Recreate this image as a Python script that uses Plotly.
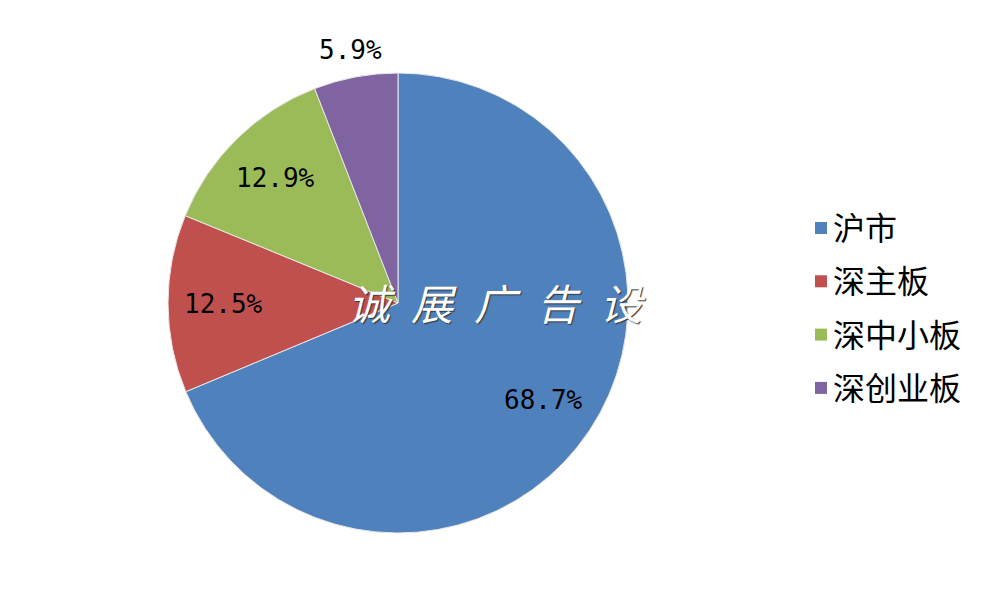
import math
import plotly.graph_objects as go

labels = ["沪市", "深主板", "深中小板", "深创业板"]
values = [68.7, 12.5, 12.9, 5.9]
colors = ["#4F81BD", "#C0504D", "#9BBB59", "#8064A2"]
positions = ["inside", "inside", "inside", "outside"]
watermark = "\u2002".join("诚展广告设")

W, H = 1000, 608
# pie geometry in pixels (layout)
cx, cy, R = 398, 303, 230
dom_x = [(cx - R) / W, (cx + R) / W]
dom_y = [(H - cy - R) / H, (H - cy + R) / H]

fig = go.Figure(go.Pie(
    labels=labels,
    values=values,
    sort=False,
    direction="clockwise",
    rotation=0,
    marker=dict(colors=colors, line=dict(color="#E8E8E8", width=1)),
    textinfo="none",
    hoverinfo="label+percent",
    showlegend=False,
    domain=dict(x=dom_x, y=dom_y),
))

annotations = []
# percentage labels placed at each slice's mid-angle
total = sum(values)
cum = 0.0
for lab, v, pos in zip(labels, values, positions):
    mid = (cum + v / 2) / total * 2 * math.pi
    cum += v
    rf = 0.76 if pos == "inside" else 1.12
    px = cx + rf * R * math.sin(mid)
    py = cy - rf * R * math.cos(mid)
    annotations.append(dict(
        text=f"{v / total * 100:.1f}%", x=px / W, y=1 - py / H,
        xref="paper", yref="paper", showarrow=False,
        xanchor="center", yanchor="middle",
        font=dict(family="DejaVu Sans Mono", size=26, color="black"),
    ))

# manual legend (matches reference spacing)
leg_x, leg_y0, leg_dy, sq = 815, 226, 53.3, 12
shapes = []
for i, (lab, col) in enumerate(zip(labels, colors)):
    yc = leg_y0 + i * leg_dy
    shapes.append(dict(
        type="rect", xref="paper", yref="paper",
        x0=leg_x / W, x1=(leg_x + sq) / W,
        y0=1 - (yc + 2 + sq / 2) / H, y1=1 - (yc + 2 - sq / 2) / H,
        fillcolor=col, line=dict(width=0),
    ))
    annotations.append(dict(
        text=lab, x=(leg_x + sq + 4) / W, y=1 - yc / H,
        xref="paper", yref="paper", showarrow=False,
        xanchor="left", yanchor="middle",
        font=dict(family="Noto Sans CJK SC", size=32, color="black"),
    ))

annotations.append(dict(
    text=watermark, x=346 / W, y=1 - 301 / H, xref="paper", yref="paper",
    showarrow=False, xanchor="left", yanchor="middle",
    font=dict(family="Noto Sans CJK SC", size=42, color="white",
              style="italic", shadow="1px 1px 1px #333"),
))

fig.update_layout(
    width=W, height=H,
    margin=dict(l=0, r=0, t=0, b=0),
    paper_bgcolor="white",
    plot_bgcolor="white",
    showlegend=False,
    shapes=shapes,
    annotations=annotations,
)

fig.write_html("out.html", config={"displayModeBar": False},
               post_script="document.body.style.margin='0';")
